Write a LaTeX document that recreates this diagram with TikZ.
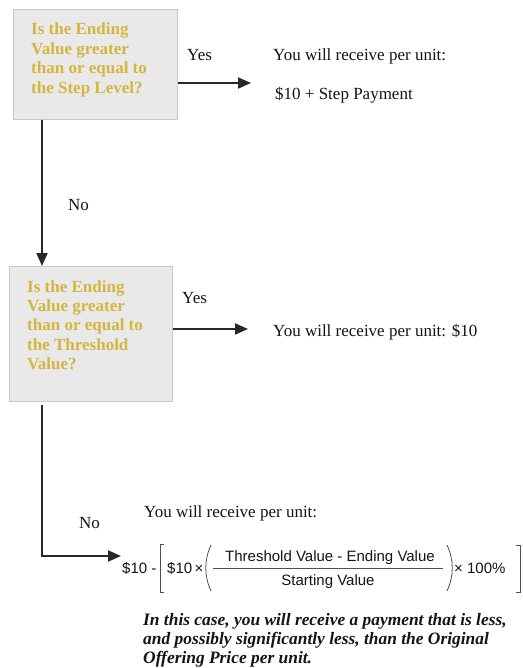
\documentclass[tikz,border=0pt]{standalone}
\usepackage{fontspec}
\setmainfont{Liberation Serif}
\newfontfamily\formfont{Liberation Sans}
\usetikzlibrary{arrows.meta}
\definecolor{gold}{RGB}{212,182,62}
\definecolor{boxfill}{RGB}{233,233,233}
\definecolor{boxline}{RGB}{200,200,200}
\definecolor{ink}{RGB}{20,20,20}
\definecolor{lineink}{RGB}{40,40,40}
\newcommand\stack[1]{\vtop{\halign{##\hfil\cr#1\crcr}}}
\begin{document}
\begin{tikzpicture}[x=1pt,y=-1pt,
  qbox/.style={draw=boxline, fill=boxfill, line width=1pt, inner sep=0pt, anchor=north west},
  qtext/.style={text=gold, font=\fontsize{17}{19.4}\selectfont\bfseries, inner sep=0pt, anchor=base west},
  lbl/.style={text=ink, font=\fontsize{17}{20}\selectfont, inner sep=0pt, anchor=base west},
  frm/.style={text=ink, font=\fontsize{15}{18}\selectfont\formfont, inner sep=0pt},
  note/.style={text=ink, font=\fontsize{17.4}{19.2}\selectfont\bfseries\itshape, inner sep=0pt, anchor=base west},
  conn/.style={draw=lineink, line width=1.9pt},
  arr/.style={conn, -{Triangle[length=13pt,width=11pt]}},
  delim/.style={draw=ink!75, line width=0.8pt}
]
\useasboundingbox[fill=white] (0,0) rectangle (522,668);
% question boxes
\node[qbox, minimum width=164pt, minimum height=110pt] (b1) at (13,9) {};
\node[qtext] (q1) at (31,35) {\stack{Is the Ending\cr Value greater\cr than or equal to\cr the Step Level?}};
\node[qbox, minimum width=163pt, minimum height=135pt] (b2) at (9,266) {};
\node[qtext] (q2) at (27,292) {\stack{Is the Ending\cr Value greater\cr than or equal to\cr the Threshold\cr Value?}};
% labels
\node[lbl] (y1) at (187,61) {Yes};
\node[lbl] (a1) at (273,61) {You will receive per unit:};
\node[lbl] (a1b) at (275,100) {\$10 + Step Payment};
\node[lbl] (n1) at (68,211) {No};
\node[lbl] (y2) at (182,303) {Yes};
\node[lbl] (a2) at (273,336) {You will receive per unit: \$10};
\node[lbl] (n2) at (79,528) {No};
\node[lbl] (a3) at (144,517) {You will receive per unit:};
% connectors
\coordinate (t1) at (251,83);
\coordinate (t2) at (248,329);
\coordinate (c3) at (42,556);
\coordinate (t3) at (121,556);
\draw[arr] (b1.east |- t1) -- (t1);
\draw[arr] (b1.south -| c3) -- (b2.north -| c3);
\draw[arr] (b2.east |- t2) -- (t2);
\draw[arr, shorten <=3pt] (b2.south -| c3) -- (c3) -- (t3);
% formula
\node[frm, anchor=base west] (f1) at (122,573) {\$10 -};
\node[frm, anchor=base west] (f2) at (167,573) {\$10\,×};
\node[frm, anchor=base] (num) at (330,561) {Threshold Value - Ending Value};
\node[frm, anchor=base] (den) at (328,585) {Starting Value};
\node[frm, anchor=base west] (f3) at (454,573) {× 100\%};
\draw[delim] (213,568) -- (443,568);
\draw[delim] (164,544) -- (160,544) -- (160,592) -- (164,592);
\draw[delim] (516,545) -- (520,545) -- (520,592) -- (516,592);
\draw[delim] (211,545) .. controls (204,560) and (204,576) .. (211,591);
\draw[delim] (447,545) .. controls (454,560) and (454,576) .. (447,591);
% note
\node[note] (nt) at (143,625) {\stack{In this case, you will receive a payment that is less,\cr and possibly significantly less, than the Original\cr Offering Price per unit.}};
\end{tikzpicture}
\end{document}
